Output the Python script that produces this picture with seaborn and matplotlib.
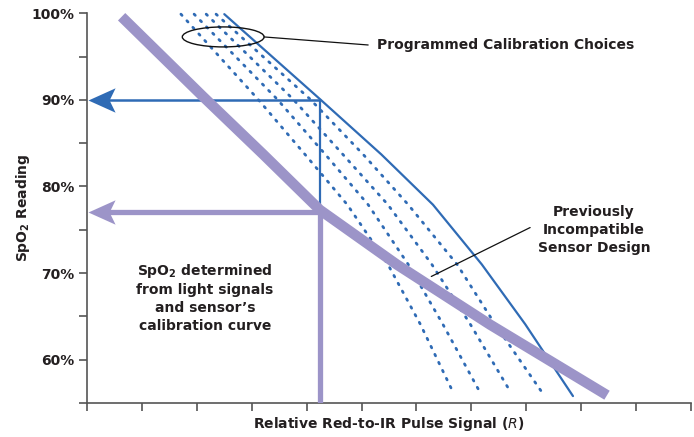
import numpy as np
import pandas as pd
import matplotlib
matplotlib.use("Agg")
import matplotlib.pyplot as plt
import seaborn as sns
from matplotlib.path import Path
from matplotlib.patches import Ellipse

# ---------------- data ----------------
spo2_levels = [99.9, 90.1, 83.7, 77.9, 71.0, 64.1, 56.2]
cal_choice_1 = [1.71, 3.11, 3.97, 4.74, 5.48, 6.07, 6.67]
cal_choice_2 = [1.95, 3.46, 4.34, 5.12, 5.85, 6.48, 7.16]
cal_choice_3 = [2.17, 3.75, 4.66, 5.48, 6.28, 6.98, 7.72]
cal_choice_4 = [2.35, 4.06, 5.03, 5.85, 6.74, 7.43, 8.29]
sensor_curve_r = [2.50, 4.24, 5.36, 6.30, 7.19, 7.98, 8.85]
sensor_curve_spo2 = [99.9, 90.1, 83.7, 77.9, 71.0, 64.1, 55.8]

incompatible_r = [0.63, 2.11, 3.21, 4.24, 5.64, 7.34, 9.47]
incompatible_spo2 = [99.6, 90.4, 83.7, 77.3, 71.0, 64.05, 55.9]

measured_r = 4.24
reading_correct = 90.0
reading_incompatible = 77.1

y_ticks = [60, 70, 80, 90, 100]
y_tick_labels = ["60%", "70%", "80%", "90%", "100%"]
y_minor = [55, 65, 75, 85, 95]
x_ticks = list(range(0, 12))

BLUE = "#2f6bb5"
PURPLE = "#9c94c8"
TEXT = "#231f20"
AXIS = "#555555"

sns.set_theme(style="white")
plt.rcParams["font.family"] = ["DejaVu Sans"]
plt.rcParams["mathtext.default"] = "regular"

fig = plt.figure(figsize=(6.94, 4.37), dpi=100)
ax = fig.add_axes([0.1254, 0.0778, 0.8703, 0.8918])

# calibration choices (dotted)
for xs in [cal_choice_1, cal_choice_2, cal_choice_3, cal_choice_4]:
    df = pd.DataFrame({"R": xs, "SpO2": spo2_levels})
    sns.lineplot(data=df, x="R", y="SpO2", ax=ax, color=BLUE, lw=2.0,
                 linestyle=(0, (0.6, 2.6)), dash_capstyle="round",
                 estimator=None, sort=False, zorder=2, clip_on=False)

# sensor calibration curve (solid)
sns.lineplot(x=sensor_curve_r, y=sensor_curve_spo2, ax=ax, color=BLUE, lw=1.6,
             estimator=None, sort=False, zorder=3, clip_on=False)

# previously incompatible sensor design (thick purple)
sns.lineplot(x=incompatible_r, y=incompatible_spo2, ax=ax, color=PURPLE, lw=7.5,
             estimator=None, sort=False, zorder=6, clip_on=False,
             solid_capstyle="butt")

# reading lines
ax.plot([measured_r, measured_r], [reading_correct, 77.9], color=BLUE, lw=1.6, zorder=4)
ax.plot([measured_r, 0.35], [reading_correct, reading_correct], color=BLUE, lw=1.8, zorder=4)
ax.plot([measured_r, measured_r], [reading_incompatible, 55], color=PURPLE, lw=3.8,
        zorder=5, solid_capstyle="butt")
ax.plot([measured_r, 0.35], [reading_incompatible, reading_incompatible], color=PURPLE,
        lw=3.8, zorder=5, solid_capstyle="butt")

head = Path([(0, 0), (1, 0.45), (0.78, 0), (1, -0.45), (0, 0)],
            [Path.MOVETO, Path.LINETO, Path.LINETO, Path.LINETO, Path.CLOSEPOLY])
ax.plot([0.02], [reading_correct], marker=head, markersize=39, color=BLUE,
        markeredgewidth=0, zorder=7, clip_on=False)
ax.plot([0.02], [reading_incompatible], marker=head, markersize=39, color=PURPLE,
        markeredgewidth=0, zorder=7, clip_on=False)

# ellipse + leader for calibration choices
ax.add_patch(Ellipse((2.48, 97.27), 1.49, 2.31, fill=False, ec="#111111", lw=1.0, zorder=8))
ax.plot([3.22, 5.12], [97.27, 96.34], color="#111111", lw=0.9, zorder=8)
ax.text(5.28, 96.34, "Programmed Calibration Choices", ha="left", va="center",
        fontsize=10, fontweight="bold", color=TEXT)

# incompatible leader
ax.plot([8.07, 6.27], [75.26, 69.61], color="#111111", lw=0.9, zorder=8)
ax.text(9.23, 75.0, "Previously\nIncompatible\nSensor Design", ha="center", va="center",
        multialignment="center", fontsize=10, fontweight="bold", color=TEXT,
        linespacing=1.35)

ax.text(2.15, 67.2, "SpO$_2$ determined\nfrom light signals\nand sensor\u2019s\ncalibration curve",
        ha="center", va="center", multialignment="center", fontsize=10,
        fontweight="bold", color=TEXT, linespacing=1.35)

# axes
ax.set_xlim(0, 11)
ax.set_ylim(55, 100)
ax.set_xticks(x_ticks)
ax.set_xticklabels([])
ax.set_yticks(y_ticks)
ax.set_yticklabels(y_tick_labels, fontsize=10, fontweight="bold", color=TEXT)
ax.set_yticks(y_minor, minor=True)
ax.tick_params(axis="both", which="both", direction="out", length=6, width=1.2,
               color=AXIS, left=True, bottom=True)
ax.tick_params(axis="y", which="both", pad=3)
for s in ["top", "right"]:
    ax.spines[s].set_visible(False)
for s in ["left", "bottom"]:
    ax.spines[s].set_color(AXIS)
    ax.spines[s].set_linewidth(1.2)
ax.set_xlabel("Relative Red-to-IR Pulse Signal ($\\it{R}$)", fontsize=10,
              fontweight="bold", color=TEXT)
ax.xaxis.label.set_verticalalignment("center")
ax.xaxis.set_label_coords(0.5, -0.054)
ax.set_ylabel("SpO$_2$ Reading", fontsize=10, fontweight="bold", color=TEXT)
ax.yaxis.label.set_verticalalignment("center")
ax.yaxis.set_label_coords(-0.106, 0.5)
ax.grid(False)

fig.savefig("out.png", dpi=100)
